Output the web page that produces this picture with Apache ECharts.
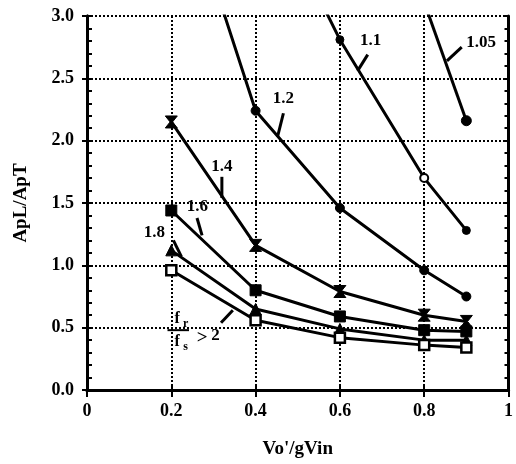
<!DOCTYPE html>
<html>
<head>
<meta charset="utf-8">
<script src="https://cdn.jsdelivr.net/npm/echarts@6/dist/echarts.min.js"></script>
<style>
  html, body { margin: 0; background: #fff; }
  #chart { width: 516px; height: 464px; }
</style>
</head>
<body>
<div id="chart"></div>
<script>
// Vo'/gVin positions where the curves were computed
const xValues = [0.2, 0.4, 0.6, 0.8, 0.9];

// ApL/ApT for each fr/fs ratio (values above 3.0 run off the top of the plot)
const ratio105 = [null, null, null, 3.11, 2.16];
const ratio11 = [null, 4.17, 2.81, 1.70, 1.28];
const ratio12 = [4.32, 2.24, 1.46, 0.96, 0.75];
const ratio14 = [2.15, 1.16, 0.79, 0.60, 0.55];
const ratio16 = [1.44, 0.80, 0.59, 0.48, 0.47];
const ratio18 = [1.12, 0.65, 0.49, 0.40, 0.40];
const ratio2 = [0.96, 0.56, 0.42, 0.36, 0.34];

const curveNames = ["1.05", "1.1", "1.2", "1.4", "1.6", "1.8", ">2"];
const curveValues = [ratio105, ratio11, ratio12, ratio14, ratio16, ratio18, ratio2];

const FONT = '"Liberation Serif", "DejaVu Serif", serif';
const BLACK = "#000";

const hourglass = "path://M0,0L10,0L6,5L10,10L0,10L4,5Z";
const symbols = ["circle", "circle", "circle", hourglass, "rect", "triangle", "rect"];
const symbolSizes = [10, 8, 9, 12, 11, 11, 10];

const toPoints = (vals) =>
    xValues.map((x, i) => [x, vals[i]]).filter((p) => p[1] !== null);

const series = curveNames.map((name, k) => {
    const openMarks = name === ">2";
    return {
        name: name,
        type: "line",
        xAxisIndex: 0,
        yAxisIndex: 0,
        symbol: symbols[k],
        symbolSize: symbolSizes[k],
        showAllSymbol: true,
        lineStyle: { color: BLACK, width: 3 },
        itemStyle: openMarks
            ? { color: "#fff", borderColor: BLACK, borderWidth: 2.5 }
            : { color: BLACK, borderColor: BLACK, borderWidth: 1 },
        // the 1.1 curve has a hollow circle at 0.8
        data: toPoints(curveValues[k]).map((p) =>
            name === "1.1" && p[0] === 0.8
                ? { value: p, itemStyle: { color: "#fff", borderColor: BLACK, borderWidth: 2 } }
                : p
        ),
        z: 3 + k,
    };
});

const dotted = { color: BLACK, type: [2, 2], width: 2 };
const axisLine = { show: true, lineStyle: { color: BLACK, width: 3 } };
const labelStyle = { color: BLACK, fontFamily: FONT, fontWeight: "bold", fontSize: 18 };

const option = {
    animation: false,
    backgroundColor: "#fff",
    grid: { left: 87, right: 5, top: 16, bottom: 73 },
    xAxis: [
        {
            type: "value",
            position: "bottom",
            min: 0,
            max: 1,
            interval: 0.2,
            axisLine: axisLine,
            axisTick: { length: 7, lineStyle: { color: BLACK, width: 2 } },
            axisLabel: {
                ...labelStyle,
                margin: 12,
                formatter: (v) => (v === 0 || v === 1 ? String(v) : v.toFixed(1)),
            },
            splitLine: { show: true, lineStyle: dotted },
            name: "Vo'/gVin",
            nameLocation: "middle",
            nameGap: 50,
            nameTextStyle: { ...labelStyle, fontSize: 19 },
        },
        {
            type: "value",
            position: "top",
            min: 0,
            max: 1,
            interval: 0.2,
            axisLine: axisLine,
            axisTick: { length: 4, lineStyle: { color: BLACK, width: 2 } },
            axisLabel: { show: false },
            splitLine: { show: false },
        },
    ],
    yAxis: [
        {
            type: "value",
            position: "left",
            min: 0,
            max: 3,
            interval: 0.5,
            axisLine: axisLine,
            axisTick: { length: 5, lineStyle: { color: BLACK, width: 2 } },
            axisLabel: { ...labelStyle, margin: 13, formatter: (v) => v.toFixed(1) },
            splitLine: { show: true, lineStyle: dotted },
            name: "ApL/ApT",
            nameLocation: "middle",
            nameGap: 56,
            nameTextStyle: { ...labelStyle, fontSize: 19 },
        },
        {
            type: "value",
            position: "left",
            min: 0,
            max: 3,
            interval: 0.5,
            axisLine: axisLine,
            axisTick: { inside: true, length: 6, lineStyle: { color: BLACK, width: 2 } },
            minorTick: { show: true, splitNumber: 5, length: 5, lineStyle: { color: BLACK, width: 2 } },
            axisLabel: { show: false },
            splitLine: { show: false },
        },
        {
            type: "value",
            position: "right",
            min: 0,
            max: 3,
            interval: 0.5,
            axisLine: axisLine,
            axisTick: { inside: true, length: 5, lineStyle: { color: BLACK, width: 2 } },
            minorTick: { show: true, splitNumber: 5, length: 4, lineStyle: { color: BLACK, width: 2 } },
            axisLabel: { show: false },
            splitLine: { show: false },
        },
    ],
    series: series,
};

const chart = echarts.init(document.getElementById("chart"));
chart.setOption(option);

// curve labels with leader lines, in data coordinates
const notes = [
    { text: "1.05", at: [0.935, 2.79], from: [0.854, 2.64], to: [0.889, 2.75] },
    { text: "1.1", at: [0.673, 2.80], from: [0.642, 2.56], to: [0.666, 2.69] },
    { text: "1.2", at: [0.466, 2.34], from: [0.452, 2.03], to: [0.466, 2.22] },
    { text: "1.4", at: [0.320, 1.79], from: [0.320, 1.54], to: [0.320, 1.71] },
    { text: "1.6", at: [0.262, 1.47], from: [0.273, 1.24], to: [0.261, 1.38] },
    { text: "1.8", at: [0.160, 1.26], from: [0.224, 1.07], to: [0.205, 1.20] },
    { text: "", at: [0.3, 0.5], from: [0.318, 0.54], to: [0.346, 0.64] },
];

const px = (p) => chart.convertToPixel({ xAxisIndex: 0, yAxisIndex: 0 }, p);
const font = (size) => `bold ${size}px ${FONT}`;

const graphics = [];
const addText = (text, at, size) => {
    const t = px(at);
    graphics.push({
        type: "text",
        x: t[0],
        y: t[1],
        style: { text: text, font: font(size), fill: BLACK, align: "center", verticalAlign: "middle" },
        z: 21,
    });
};
const addLine = (from, to, width) => {
    const a = px(from);
    const b = px(to);
    graphics.push({
        type: "line",
        shape: { x1: a[0], y1: a[1], x2: b[0], y2: b[1] },
        style: { stroke: BLACK, lineWidth: width },
        z: 20,
    });
};

notes.forEach((n) => {
    addLine(n.from, n.to, 3);
    if (n.text) addText(n.text, n.at, 17);
});

// fr/fs > 2 label
addText("f", [0.214, 0.57], 16);
addText("r", [0.234, 0.53], 12);
addLine([0.191, 0.48], [0.242, 0.48], 2);
addText("f", [0.214, 0.39], 16);
addText("s", [0.234, 0.345], 12);
addText(">", [0.273, 0.42], 19);
addText("2", [0.305, 0.44], 17);

chart.setOption({ graphic: graphics });
</script>
</body>
</html>
